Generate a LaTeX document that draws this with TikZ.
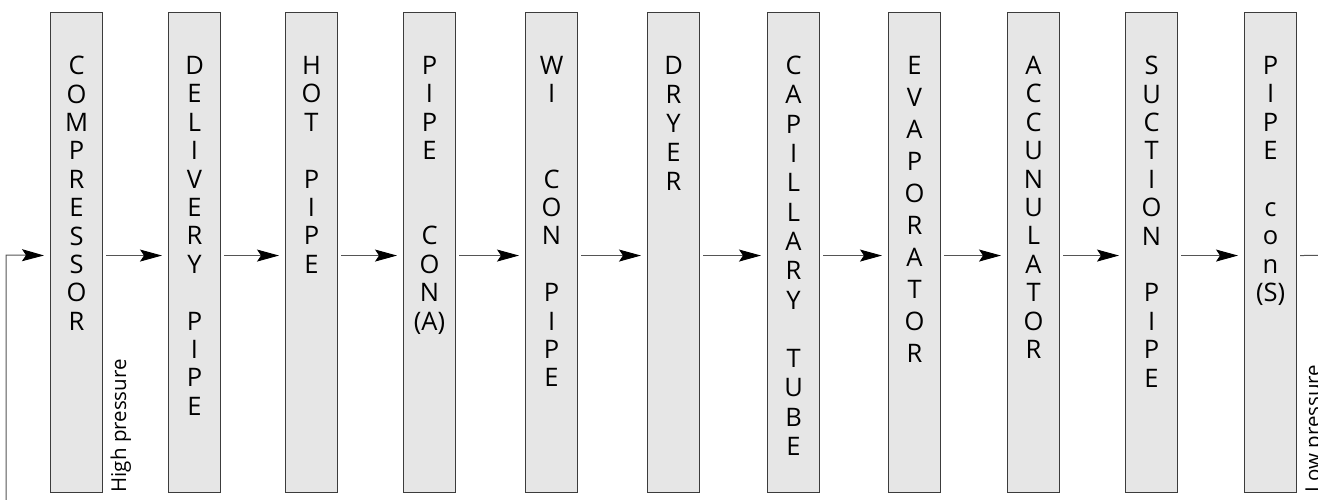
\documentclass[tikz,border=0pt]{standalone}
\usepackage{fontspec}
\setmainfont{Open Sans}
\usetikzlibrary{arrows.meta}
\definecolor{boxfill}{HTML}{E6E6E6}
\definecolor{boxline}{HTML}{3C3C3C}
\definecolor{flowline}{HTML}{555555}
\begin{document}
\begin{tikzpicture}[x=1pt,y=-1pt,
  unit/.style={draw=boxline, fill=boxfill, line width=1.1pt, minimum width=52pt,
    minimum height=479.5pt, inner sep=0pt, anchor=north west},
  caption/.style={anchor=north, inner sep=0pt, align=center, text=black,
    font=\fontsize{25.5}{28.4}\selectfont},
  flow/.style={draw=flowline, line width=1pt,
    -{Stealth[length=22pt,width=12pt,inset=4pt,color=black]}},
  note/.style={rotate=90, anchor=base west, inner sep=0pt, text=black,
    font=\fontsize{20.5}{24}\selectfont},
]
\clip (0,0) rectangle (1318,499);
\useasboundingbox (0,0) rectangle (1318,499);

% the eleven stages of the refrigerant circuit
\node[unit] (b1)  at (50,12)   {};
\node[unit] (b2)  at (168,12)  {};
\node[unit] (b3)  at (285,12)  {};
\node[unit] (b4)  at (403,12)  {};
\node[unit] (b5)  at (525,12)  {};
\node[unit] (b6)  at (647,12)  {};
\node[unit] (b7)  at (767,12)  {};
\node[unit] (b8)  at (888,12)  {};
\node[unit] (b9)  at (1007,12) {};
\node[unit] (b10) at (1125,12) {};
\node[unit] (b11) at (1244,12) {};

% vertical captions
\node[caption] (t1)  at ([yshift=-44pt]b1.north)  {C\\O\\M\\P\\R\\E\\S\\S\\O\\R};
\node[caption] (t2)  at ([yshift=-44pt]b2.north)  {D\\E\\L\\I\\V\\E\\R\\Y\\\mbox{}\\P\\I\\P\\E};
\node[caption] (t3)  at ([yshift=-44pt]b3.north)  {H\\O\\T\\\mbox{}\\P\\I\\P\\E};
\node[caption] (t4)  at ([yshift=-44pt]b4.north)  {P\\I\\P\\E\\\mbox{}\\\mbox{}\\C\\O\\N\\(A)};
\node[caption] (t5)  at ([yshift=-44pt]b5.north)  {W\\I\\\mbox{}\\\mbox{}\\C\\O\\N\\\mbox{}\\P\\I\\P\\E};
\node[caption, font=\fontsize{25.5}{29}\selectfont] (t6) at ([yshift=-44pt]b6.north) {D\\R\\Y\\E\\R};
\node[caption, font=\fontsize{25.5}{29.3}\selectfont] (t7) at ([yshift=-44pt]b7.north) {C\\A\\P\\I\\L\\L\\A\\R\\Y\\\mbox{}\\T\\U\\B\\E};
\node[caption, font=\fontsize{25.5}{32}\selectfont] (t8) at ([yshift=-44pt]b8.north) {E\\V\\A\\P\\O\\R\\A\\T\\O\\R};
\node[caption] (t9)  at ([yshift=-44pt]b9.north)  {A\\C\\C\\U\\N\\U\\L\\A\\T\\O\\R};
\node[caption] (t10) at ([yshift=-44pt]b10.north) {S\\U\\C\\T\\I\\O\\N\\\mbox{}\\P\\I\\P\\E};
\node[caption] (t11) at ([yshift=-44pt]b11.north) {P\\I\\P\\E\\\mbox{}\\c\\o\\n\\(S)};

% pressure side notes
\node[note] (hp) at ([xshift=23pt]b1.south east)  {High pressure};
\node[note] (lp) at ([xshift=23pt]b11.south east) {Low pressure};

% flow between stages
\foreach \a/\b in {b1/b2,b2/b3,b3/b4,b4/b5,b5/b6,b6/b7,b7/b8,b8/b9,b9/b10,b10/b11}
  \draw[flow, shorten <=3pt, shorten >=6pt] ([yshift=-3.25pt]\a.east) -- ([yshift=-3.25pt]\b.west);

% return line back to the compressor
\coordinate (r1) at (1340,255);
\coordinate (r2) at (1340,530);
\coordinate (r3) at (6,530);
\coordinate (r4) at (6,255);
\draw[flow, shorten >=6pt] ([xshift=3pt,yshift=-3.25pt]b11.east) -- (r1) -- (r2) -- (r3) -- (r4) -- ([yshift=-3.25pt]b1.west);
\end{tikzpicture}
\end{document}
